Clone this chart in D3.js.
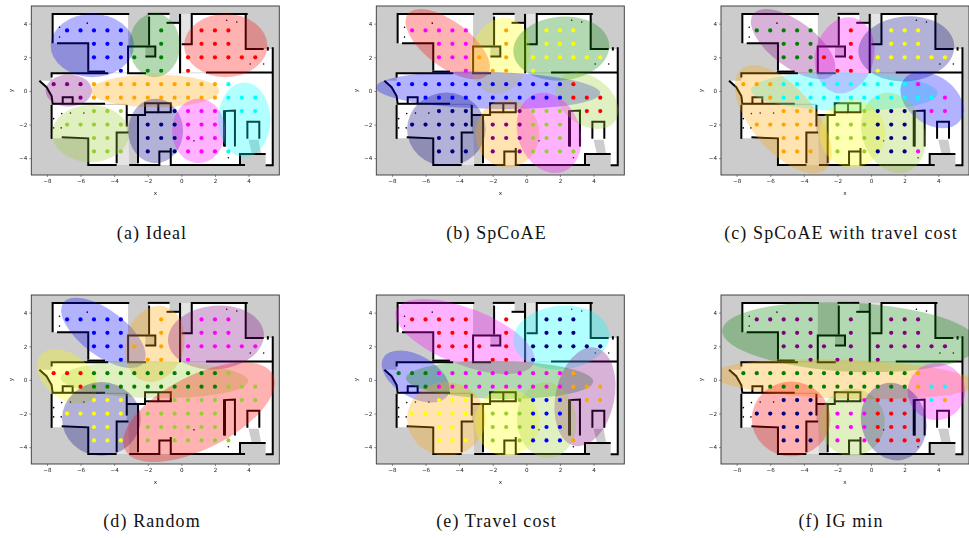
<!DOCTYPE html>
<html>
<head>
<meta charset="utf-8">
<script src="https://cdn.jsdelivr.net/npm/d3@7"></script>
<style>
  html, body { margin: 0; padding: 0; background: #fff; }
  svg { display: block; }
  .tick text, .axis-name { font-family: "DejaVu Sans", sans-serif; font-size: 5.6px; fill: #222; }
  .caption { font-family: "Liberation Serif", serif; font-size: 18px; letter-spacing: 1.1px; fill: #111; text-anchor: middle; }
</style>
</head>
<body>
<div id="chart"></div>
<script>
// sample grid, one row per y value
const gridY = [3.6, 2.8, 2, 1.2, 0.4, -0.4, -1.2, -2, -2.8, -3.6];
const gridX = [
  [-6.8, -6, -5.2, -4.4, -3.6, -1.2, 1.2, 2, 2.8],
  [-5.2, -4.4, -3.6, -1.2, 1.2, 2, 2.8],
  [-5.2, -4.4, -3.6, -2.8, -1.2, 0.4, 1.2, 2, 2.8, 3.6, 4.4],
  [-3.6, -2, -1.2, 0.4],
  [-7.6, -6.8, -6, -5.2, -4.4, -3.6, -2.8, -2, -1.2, -0.4, 0.4, 1.2, 2, 2.8],
  [-6, -5.2, -4.4, -3.6, -2.8, -2, -1.2, -0.4, 0.4, 1.2, 2, 2.8, 3.6, 4.4],
  [-5.2, -4.4, -3.6, -0.4, 0.4, 1.2, 2, 3.6, 4.4],
  [-6.8, -6, -5.2, -4.4, -3.6, -2, -1.2, -0.4, 0.4, 1.2, 2],
  [-5.2, -4.4, -2, -1.2, -0.4, 0.4, 1.2, 2],
  [-5.2, -4.4, -3.6, -2, -0.4, 0.4, 1.2, 2, 2.8]
];

// cluster of each grid point, same order as gridX
const labelsIdeal = ["bbbbbgrrr", "bbbgrrr", "bbbggrrrrrr", "bggr", "pppooooooooooc", "pooooooooooccc", "lllnmmmcc", "lllllnnnmmm", "llnnnmmm", "lllnnmmmc"];
const labelsSpcoae = ["mmmmmoyyy", "mmmoyyy", "mmmooyyyyyy", "mooy", "bbbbbbbbbbbbbr", "bbbbbbbbbbbrrr", "nnnplllrr", "nnnnnppplll", "nnppplll", "nnnppllll"];
const labelsSpcoaeCost = ["gggggryyy", "gggryyy", "gggrryyyyyy", "grry", "ooocccccccccc" + "m", "occcccccccccc" + "mm", "ooolnnnmm", "ooooolllnnn", "oolllnnn", "ooollnnnm"];
const labelsRandom = ["bbbbbommm", "bbbommm", "bbboommmmmm", "boom", "rrrggggggggggl", "rgggggggggglll", "yyyllllll", "yyyyyllllll", "yyllllll", "yyyllllll"];
const labelsCost = ["rrrrrrnnn", "rrrrnnn", "rrrrrnnnnnn", "rrrn", "gggmmmmmmmmmmo", "gmmmmmmmmmmooo", "yyylbbboo", "yyyyylllbbb", "yylllbbb", "yyyllbbbo"];
const labelsIg = ["ppppppppp", "ppppppp", "ppppppppppp", "pppp", "gggggggggggggo", "gggggggggggocc", "nnnmrrrco", "nnnnnmmmrrr", "nnmmmrrr", "nnnmmrrrr"];

// gaussians: cx, cy, rx, ry, tilt in degrees, cluster
const ellipsesIdeal = [
  [-5.3, 2.7, 2.48, 1.88, 0, "b"], [-1.59, 2.72, 1.51, 1.9, 0, "g"], [2.64, 2.7, 2.48, 1.88, 0, "r"],
  [-6.7, 0.02, 1.38, 0.95, 0, "p"], [-1.57, 0, 3.83, 0.97, 0, "o"], [-5.4, -2.54, 2.3, 1.7, 0, "l"],
  [-1.53, -2.38, 1.63, 1.92, 0, "n"], [1.03, -2.38, 1.58, 1.92, 0, "m"], [3.75, -1.72, 1.55, 2.22, 0, "c"]
];
const ellipsesSpcoae = [
  [-4.68, 2.78, 2.98, 1.35, 37, "r"], [-1.56, 2.1, 1.75, 2.3, 15, "y"], [2.08, 2.52, 2.86, 1.9, -5, "g"],
  [-2.28, 0.04, 6.68, 1.1, 1.5, "b"], [3.6, -0.58, 2.08, 1.43, 36, "l"], [-4.76, -2.28, 2.34, 2.18, 0, "n"],
  [-1.13, -2.54, 1.9, 2.02, 0, "o"], [1.35, -2.5, 1.85, 2.45, -20, "m"]
];
const ellipsesSpcoaeCost = [
  [-4.64, 2.78, 2.98, 1.35, 37, "p"], [-1.57, 2.12, 1.75, 2.3, 15, "m"], [2.1, 2.5, 2.86, 1.93, -5, "n"],
  [-1.59, -0.04, 5.56, 1.15, 1, "c"], [3.63, -0.54, 2.08, 1.43, 36, "b"], [-5.22, -1.69, 3.89, 1.88, 50, "o"],
  [-1.11, -2.54, 1.96, 2.02, 0, "y"], [1.33, -2.5, 1.85, 2.45, -20, "l"]
];
const ellipsesRandom = [
  [-4.64, 2.8, 2.98, 1.35, 37, "b"], [-1.59, 2.14, 1.75, 2.3, 15, "o"], [2.06, 2.52, 2.86, 1.9, -5, "p"],
  [-6.8, 0.2, 2.02, 1.33, 37, "y"], [-1.6, 0.02, 5.58, 1.1, 1, "l"], [-4.76, -2.32, 2.34, 2.19, 0, "n"],
  [1.05, -1.92, 4.94, 2.18, -27, "r"]
];
const ellipsesCost = [
  [-3.65, 2.58, 4.39, 1.69, 21, "m"], [2.08, 2.52, 2.86, 1.9, -5, "c"], [-6.59, 0.2, 2.22, 1.25, 30, "b"],
  [-1.59, 0, 5.57, 1.13, 1, "g"], [3.49, -1, 1.75, 2.98, 12, "p"], [-4.76, -2.32, 2.34, 2.19, 0, "o"],
  [-1.15, -2.52, 1.93, 2.02, 0, "y"], [1.21, -2.4, 1.77, 2.26, -5, "l"]
];
const ellipsesIg = [
  [-1.23, 2.54, 7.64, 2.05, 3, "g"], [-1.6, 0.04, 7.9, 1.16, 2, "o"], [3.89, -0.69, 1.71, 1.7, 0, "m"],
  [-4.76, -2.32, 2.34, 2.22, 0, "r"], [-1.13, -2.52, 1.95, 2.02, 0, "l"], [1.35, -2.48, 1.93, 2.33, -15, "n"]
];

const captions = ["(a) Ideal", "(b) SpCoAE", "(c) SpCoAE with travel cost", "(d) Random", "(e) Travel cost", "(f) IG min"];
const allLabels = [labelsIdeal, labelsSpcoae, labelsSpcoaeCost, labelsRandom, labelsCost, labelsIg];
const allEllipses = [ellipsesIdeal, ellipsesSpcoae, ellipsesSpcoaeCost, ellipsesRandom, ellipsesCost, ellipsesIg];

const xTicks = [-8, -6, -4, -2, 0, 2, 4];
const yTicks = [-4, -2, 0, 2, 4];

// floor map in metres
const freeSpace = [
  [[-7.66, 4.58], [-3.17, 4.58], [-3.17, 1.1], [-5.54, 1.1], [-5.54, 2.84], [-7.66, 2.84]],
  [[-1.92, 4.58], [-0.08, 4.58], [-0.08, 1.05], [-3.13, 1.05], [-3.13, 2.64], [-1.92, 2.64]],
  [[0.62, 4.58], [3.83, 4.58], [3.83, 2.5], [5.44, 2.5], [5.44, 1.09], [0.02, 1.09], [0.02, 2.78], [0.62, 2.78]],
  [[-7.72, 1.05], [5.44, 1.05], [5.44, -4.4], [5.02, -4.4], [5.02, -3.75], [3.49, -3.75], [3.49, -4.4], [-2.58, -4.4], [-2.58, -1.4], [-3.25, -1.4], [-3.25, -0.77], [-7.66, -0.77], [-7.72, -0.3], [-8.02, 0.22], [-8.45, 0.6], [-7.72, 0.6]],
  [[-7.72, -0.83], [-3.25, -0.83], [-3.25, -2.48], [-3.85, -2.48], [-3.85, -4.4], [-5.54, -4.4], [-5.54, -2.82], [-7.72, -2.82]]
];
const unknownSpace = [
  [[-2.14, 2.04], [-1.55, 2.04], [-1.55, 2.64], [-2.14, 2.64]],
  [[4.0, -2.9], [4.6, -2.9], [4.75, -3.75], [4.2, -3.75]],
  [[-0.7, 4.05], [-0.08, 4.05], [-0.08, 4.58], [-0.7, 4.58]]
];
const scanNoise = [
  [[0.02, 2.78], [0.62, 2.78], [0.62, 4.58], [0.02, 4.58]],
  [[-3.85, -2.5], [-3.15, -2.5], [-3.1, -4.4], [-3.85, -4.4]]
];
const walls = [
  [[-7.66, 2.84], [-7.66, 4.58], [-3.1, 4.58]],
  [[-7.4, 2.84], [-5.54, 2.84], [-5.54, 1.21]],
  [[-5.6, 1.15], [-4.54, 1.15]],
  [[-7.72, 0.8], [-7.72, 1.05], [-4.35, 1.05]],
  [[-3.17, 2.7], [-3.17, 1.05], [-2.1, 1.05]],
  [[-3.13, 2.64], [-1.55, 2.64], [-1.55, 2.04], [-2.14, 2.04]],
  [[-1.92, 4.42], [-1.92, 2.7]],
  [[-2, 4.58], [-0.7, 4.58]],
  [[-0.88, 4.05], [-0.08, 4.05]],
  [[-0.08, 4.58], [-0.08, 1.05]],
  [[0.02, 2.78], [0.62, 2.78], [0.62, 4.58], [3.95, 4.58]],
  [[3.83, 4.58], [3.83, 2.5], [4.9, 2.5]],
  [[1.47, 1.09], [5.44, 1.09]],
  [[5.44, 2.6], [5.44, -4.42], [5.02, -4.42]],
  [[5.15, 2.6], [5.15, 2.4]],
  [[-8.45, 0.6], [-8.02, 0.22], [-7.72, -0.3], [-7.66, -0.77], [-4.54, -0.77]],
  [[-7.06, -0.77], [-7.06, -0.38], [-6.47, -0.38], [-6.47, -0.75]],
  [[-7.72, -0.83], [-7.72, -2.85]],
  [[-7.12, -2.76], [-5.54, -2.82], [-5.54, -4.4], [-3.85, -4.4]],
  [[-3.85, -4.3], [-3.85, -2.48], [-3.15, -2.48]],
  [[-3.25, -0.83], [-3.25, -2.12]],
  [[-3.25, -1.43], [-2.16, -1.43], [-2.16, -0.73], [-0.63, -0.73], [-0.63, -1.27], [-1.37, -1.27], [-1.37, -0.73]],
  [[-2.16, -1.27], [-1.37, -1.27]],
  [[-2.58, -1.4], [-2.58, -4.3]],
  [[-3.1, -4.4], [-1.31, -4.4], [-1.31, -3.6], [-0.63, -3.6]],
  [[-0.63, -3.4], [-0.63, -4.4], [3.79, -4.4]],
  [[3.49, -4.4], [3.49, -3.75], [5.02, -3.75]],
  [[2.54, -3.31], [2.54, -1.2], [3.19, -1.17], [3.19, -3.31]],
  [[2.6, -3.31], [2.6, -1.2]],
  [[3.93, -2.85], [3.93, -1.83], [4.64, -1.83], [4.64, -2.85]]
];
const specks = [
  [-7.12, -1.35], [-6.6, -1.32], [-5.8, -1.32], [-7.6, -1.65], [-7.6, -2.2], [-7.15, -2.2],
  [-7.25, 3.78], [-7.25, 3.2], [-5.6, 4.03], [2.7, 4.2], [3.3, 4.1], [4.1, 1.6], [4.9, 1.6], [0.75, -2.97], [2.8, -3.97]
];

const clusterColors = {
  b: "#0000ff", g: "#008000", r: "#ff0000", p: "#800080", o: "#ffa500",
  l: "#9acd32", n: "#000080", m: "#ff00ff", c: "#00ffff", y: "#ffff00"
};

const width = 969, height = 538;
const axWidth = 248, axHeight = 169;
const axLeft = [31.3, 376.3, 721], axTop = [6, 295];
const captionX = [152, 496.5, 841], captionY = [239, 527];

const svg = d3.select("#chart").append("svg")
  .attr("width", width).attr("height", height)
  .attr("viewBox", [0, 0, width, height]);

// the source is a resized bitmap, so everything is a little soft
const defs = svg.append("defs");
defs.append("filter").attr("id", "soft")
  .attr("x", "-5%").attr("y", "-5%").attr("width", "110%").attr("height", "110%")
  .append("feGaussianBlur").attr("stdDeviation", 0.35);
defs.append("filter").attr("id", "soft-text")
  .attr("filterUnits", "userSpaceOnUse")
  .attr("x", -30).attr("y", -10).attr("width", 300).attr("height", 210)
  .append("feGaussianBlur").attr("stdDeviation", 0.22);

let x = d3.scaleLinear().domain([-8.93, 5.83]).range([0, axWidth]);
let y = d3.scaleLinear().domain([-5, 5.05]).range([axHeight, 0]);
let mapLine = d3.line().x(d => x(d[0])).y(d => y(d[1]));

defs.append("clipPath").attr("id", "ax-clip")
  .append("rect").attr("width", axWidth).attr("height", axHeight);

captions.forEach((caption, i) => {
  let col = i % 3, row = Math.floor(i / 3);
  let g = svg.append("g")
    .attr("transform", `translate(${axLeft[col]},${axTop[row]})`);

  let plot = g.append("g").attr("clip-path", "url(#ax-clip)").attr("filter", "url(#soft)");

  plot.append("rect").attr("width", axWidth).attr("height", axHeight).attr("fill", "#cccccc");

  plot.selectAll("path.free").data(freeSpace).join("path")
    .attr("d", d => mapLine(d) + "Z").attr("fill", "#fff");
  plot.selectAll("path.unknown").data(unknownSpace).join("path")
    .attr("class", "unknown").attr("d", d => mapLine(d) + "Z").attr("fill", "#cccccc");
  plot.selectAll("path.noise").data(scanNoise).join("path")
    .attr("class", "noise").attr("d", d => mapLine(d) + "Z").attr("fill", "#e4e4e4");
  plot.selectAll("path.wall").data(walls).join("path")
    .attr("class", "wall").attr("d", mapLine)
    .attr("fill", "none").attr("stroke", "#000").attr("stroke-width", 2);
  plot.selectAll("circle.speck").data(specks).join("circle")
    .attr("class", "speck")
    .attr("cx", d => x(d[0])).attr("cy", d => y(d[1])).attr("r", 0.8).attr("fill", "#000");

  plot.selectAll("ellipse").data(allEllipses[i]).join("ellipse")
    .attr("cx", 0).attr("cy", 0)
    .attr("rx", d => x(d[2]) - x(0))
    .attr("ry", d => y(0) - y(d[3]))
    .attr("transform", d => `translate(${x(d[0])},${y(d[1])}) rotate(${d[4]})`)
    .attr("fill", d => clusterColors[d[5]])
    .attr("fill-opacity", 0.3);

  let points = gridY.flatMap((yVal, r) =>
    gridX[r].map((xVal, k) => ({ x: xVal, y: yVal, label: allLabels[i][r][k] })));

  plot.selectAll("circle.point").data(points).join("circle")
    .attr("class", "point")
    .attr("cx", d => x(d.x)).attr("cy", d => y(d.y)).attr("r", 2.1)
    .attr("fill", d => clusterColors[d.label]);

  g.append("rect").attr("width", axWidth).attr("height", axHeight)
    .attr("fill", "none").attr("stroke", "#333").attr("stroke-width", 0.9);

  let labels = g.append("g").attr("filter", "url(#soft-text)");

  labels.append("g").attr("transform", `translate(0,${axHeight})`)
    .call(d3.axisBottom(x).tickValues(xTicks).tickSize(2).tickPadding(2).tickFormat(d => String(d).replace("-", "\u2212")))
    .call(a => a.select(".domain").remove())
    .call(a => a.selectAll("line").attr("stroke", "#444").attr("stroke-width", 0.6));

  labels.append("g")
    .call(d3.axisLeft(y).tickValues(yTicks).tickSize(2).tickPadding(2).tickFormat(d => String(d).replace("-", "\u2212")))
    .call(a => a.select(".domain").remove())
    .call(a => a.selectAll("line").attr("stroke", "#444").attr("stroke-width", 0.6));

  labels.append("text").attr("class", "axis-name")
    .attr("x", axWidth / 2).attr("y", axHeight + 19.5).attr("text-anchor", "middle").text("x");
  labels.append("text").attr("class", "axis-name")
    .attr("transform", `translate(-18.5,${axHeight / 2}) rotate(-90)`)
    .attr("text-anchor", "middle").text("y");

  svg.append("text").attr("class", "caption")
    .attr("x", captionX[col]).attr("y", captionY[row])
    .text(caption);
});
</script>
</body>
</html>
